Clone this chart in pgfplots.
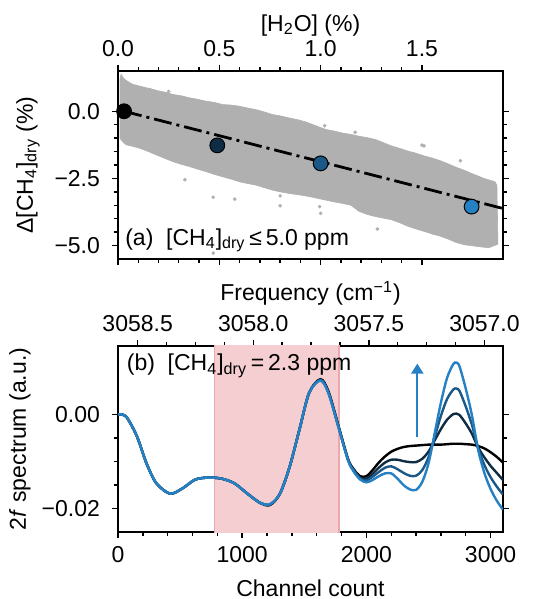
\documentclass[border=0pt]{standalone}
\usepackage{fontspec}
\setmainfont{Liberation Sans}
\usepackage{pgfplots}
\pgfplotsset{compat=1.18}
\usetikzlibrary{arrows.meta}
\definecolor{cA}{RGB}{0,0,0}
\definecolor{cB}{RGB}{14,44,68}
\definecolor{cC}{RGB}{26,88,136}
\definecolor{cD}{RGB}{38,128,196}
\definecolor{band}{RGB}{176,176,176}
\definecolor{spanfill}{RGB}{245,206,209}
\definecolor{spanedge}{RGB}{236,168,174}
\begin{document}
\fontsize{11.5}{14}\selectfont
\begin{tikzpicture}
\path[use as bounding box] (0,0) rectangle (267pt,299.5pt);
\pgfplotsset{
  every axis/.append style={
    scale only axis, width=192.5pt, anchor=south west,
    font=\fontsize{11.5}{14}\selectfont,
    axis line style={line width=1pt},
    every tick/.style={line width=0.7pt, black},
    major tick length=3pt, minor tick length=1.8pt,
    tick align=outside,
    yticklabel style={xshift=-2pt},
  },
}
% ---------------- panel (a) ----------------
\begin{axis}[
  at={(59pt,170pt)}, height=94pt,
  xmin=0, xmax=1.9, ymin=-5.5, ymax=1.5,
  xtick={0,0.5,1,1.5}, xticklabels={0.0,0.5,1.0,1.5},
  xticklabel pos=upper,
  ytick={-5,-2.5,0}, yticklabels={−5.0,−2.5,0.0},
  minor x tick num=4, minor y tick num=4,
  xlabel={[H\textsubscript{2}O] (\%)},
  xlabel style={yshift=-5.5pt},
  ylabel={Δ[CH\textsubscript{4}]\textsubscript{dry} (\%)},
  ylabel style={at={(axis description cs:-0.234,0.5)}, anchor=center},
]
\addplot[fill=band, draw=band, line width=0.3pt] coordinates {
(0.010,1.20) (0.015,1.38) (0.025,1.25) (0.033,1.19) (0.050,1.10) (0.074,1.00) (0.100,0.95)
(0.140,0.875) (0.170,0.82) (0.205,0.75) (0.240,0.70)
(0.271,0.625) (0.310,0.58) (0.353,0.50) (0.390,0.45) (0.435,0.375) (0.475,0.33) (0.517,0.25)
(0.560,0.23) (0.599,0.19) (0.640,0.12) (0.681,0.06) (0.720,-0.02)
(0.764,-0.125) (0.800,-0.17) (0.846,-0.25) (0.890,-0.32) (0.928,-0.40) (0.980,-0.55) (1.027,-0.68)
(1.070,-0.74) (1.107,-0.81) (1.150,-0.86) (1.190,-0.93) (1.230,-0.98)
(1.270,-1.05) (1.310,-1.17) (1.350,-1.29) (1.390,-1.38) (1.430,-1.48) (1.470,-1.56) (1.510,-1.66)
(1.550,-1.74) (1.590,-1.84) (1.630,-1.96) (1.670,-2.09) (1.710,-2.20)
(1.750,-2.33) (1.810,-2.51) (1.860,-2.62) (1.870,-2.75)
(1.875,-4.95) (1.830,-5.08) (1.790,-5.05) (1.750,-5.01) (1.710,-4.97) (1.670,-4.89) (1.630,-4.76)
(1.590,-4.65) (1.550,-4.57) (1.510,-4.47) (1.470,-4.38)
(1.430,-4.28) (1.390,-4.15) (1.350,-4.04) (1.310,-3.98) (1.270,-3.92) (1.230,-3.84) (1.190,-3.73)
(1.150,-3.50) (1.107,-3.43) (1.070,-3.38)
(1.027,-3.31) (0.947,-3.18) (0.900,-3.12) (0.846,-3.06) (0.800,-3.00) (0.764,-2.94) (0.720,-2.84)
(0.681,-2.75) (0.640,-2.69) (0.599,-2.625) (0.560,-2.53)
(0.517,-2.44) (0.475,-2.35) (0.435,-2.25) (0.395,-2.16) (0.353,-2.06) (0.310,-1.97) (0.271,-1.875)
(0.230,-1.75) (0.189,-1.625) (0.150,-1.50) (0.107,-1.375) (0.070,-1.30)
(0.041,-1.25) (0.025,-1.15) (0.015,-1.06) (0.010,-1.00)
} -- cycle;
\addplot[only marks, mark=*, mark size=0.7pt, color=band] coordinates {
(0.16,0.80) (0.25,0.74) (0.33,-2.55) (0.47,-3.20) (0.47,-5.28) (0.576,-3.27)
(0.80,-3.15) (0.80,-3.52) (1.00,-3.80) (0.995,-3.55) (1.28,-4.38) (1.50,-1.26)
(0.88,-0.38) (1.02,-0.54) (1.17,-0.78) (1.51,-1.29) (1.69,-1.84) (1.68,-4.77)
};
\addplot[black, line width=1.4pt, dash pattern=on 9pt off 2.5pt on 1.5pt off 2.5pt] coordinates {(0.03,0) (1.9,-3.62)};
\addplot[only marks, mark=*, mark size=3.7pt, draw=black, line width=0.5pt, fill=cA] coordinates {(0.03,0)};
\addplot[only marks, mark=*, mark size=3.7pt, draw=black, line width=0.5pt, fill=cB] coordinates {(0.49,-1.27)};
\addplot[only marks, mark=*, mark size=3.7pt, draw=black, line width=0.5pt, fill=cC] coordinates {(1.0,-1.94)};
\addplot[only marks, mark=*, mark size=3.7pt, draw=black, line width=0.5pt, fill=cD] coordinates {(1.745,-3.55)};
\node[anchor=base west, inner sep=0pt] at (axis description cs:0.018,0.074)
  {(a)\ \ [CH\textsubscript{4}]\textsubscript{dry}\,≤\,5.0 ppm};
\end{axis}
% ---------------- panel (b) frequency axis ----------------
\begin{axis}[
  at={(59pt,33.35pt)}, height=93.3pt,
  xmin=3056.92, xmax=3058.585, x dir=reverse,
  ymin=0, ymax=1, hide y axis,
  xtick pos=upper, xticklabel pos=upper,
  xtick={3057,3057.5,3058,3058.5}, xticklabels={3057.0,3057.5,3058.0,3058.5},
  minor x tick num=3,
  xlabel={Frequency (cm\textsuperscript{−1})},
  xlabel style={yshift=-3pt},
]
\addplot[draw=none] coordinates {(3057,0.5)};
\end{axis}
% ---------------- panel (b) ----------------
\begin{axis}[
  at={(59pt,33.35pt)}, height=93.3pt,
  xmin=0, xmax=3100, ymin=-0.025, ymax=0.0146,
  xtick pos=lower,
  xtick={0,1000,2000,3000}, xticklabels={0,1000,2000,3000},
  ytick={-0.02,0}, yticklabels={−0.02,0.00},
  minor x tick num=4, minor y tick num=3,
  scaled y ticks=false,
  xlabel={Channel count},
  xlabel style={yshift=-0.5pt},
  ylabel={2\textit{f} spectrum (a.u.)},
  ylabel style={at={(axis description cs:-0.255,0.5)}, anchor=center},
  every axis plot/.append style={smooth, tension=0.5},
]
\addplot[fill=spanfill, draw=spanedge, line width=0.6pt, sharp plot] coordinates {(775,-0.03) (1780,-0.03) (1780,0.02) (775,0.02)} -- cycle;
\addplot[cA, line width=1.2pt] coordinates {
(0,0) (30,0) (73,-0.0007) (152,-0.0046) (230,-0.0104) (309,-0.0146) (419,-0.0168)
(518,-0.0157) (623,-0.0138) (728,-0.0134) (832,-0.0136) (937,-0.0146) (1042,-0.0168)
(1147,-0.0188) (1225,-0.0192) (1304,-0.0168) (1382,-0.0111) (1461,-0.0032) (1539,0.0046)
(1631,0.0075) (1696,0.0048) (1775,-0.0024) (1853,-0.0095) (1900,-0.0117)
(1950,-0.0131) (2000,-0.0131) (2050,-0.0118) (2100,-0.0102) (2150,-0.0089) (2200,-0.0079)
(2250,-0.0073) (2300,-0.0069) (2350,-0.0067) (2400,-0.0066) (2450,-0.0065) (2500,-0.0064)
(2550,-0.0064) (2600,-0.0064) (2650,-0.0063) (2700,-0.0062) (2725,-0.0062) (2750,-0.0062)
(2800,-0.0063) (2850,-0.0064) (2900,-0.0067) (2950,-0.0072) (3000,-0.0080) (3050,-0.0090)
(3100,-0.0102)};
\addplot[cB, line width=1.2pt] coordinates {
(0,0) (30,0) (73,-0.0007) (152,-0.0046) (230,-0.0104) (309,-0.0146) (419,-0.0168)
(518,-0.0157) (623,-0.0138) (728,-0.0134) (832,-0.0136) (937,-0.0146) (1042,-0.0168)
(1147,-0.0188) (1225,-0.0191) (1304,-0.0168) (1382,-0.0111) (1461,-0.0032) (1539,0.0046)
(1631,0.0074) (1696,0.0046) (1775,-0.0025) (1853,-0.0096) (1900,-0.0118)
(1950,-0.0134) (2000,-0.0136) (2050,-0.0126) (2100,-0.0113) (2150,-0.0102) (2200,-0.0096)
(2250,-0.0096) (2300,-0.0099) (2350,-0.0101) (2400,-0.0101) (2450,-0.0094) (2500,-0.0079)
(2550,-0.0055) (2600,-0.0031) (2650,-0.0011) (2700,0.0001) (2725,0.0002) (2750,-0.0001)
(2800,-0.0019) (2850,-0.0041) (2900,-0.0070) (2950,-0.0091) (3000,-0.0109) (3050,-0.0124)
(3100,-0.0139)};
\addplot[cC, line width=1.2pt] coordinates {
(0,0) (30,0) (73,-0.0007) (152,-0.0046) (230,-0.0104) (309,-0.0146) (419,-0.0168)
(518,-0.0157) (623,-0.0138) (728,-0.0134) (832,-0.0136) (937,-0.0146) (1042,-0.0168)
(1147,-0.0188) (1225,-0.0191) (1304,-0.0168) (1382,-0.0111) (1461,-0.0032) (1539,0.0046)
(1631,0.0073) (1696,0.0045) (1775,-0.0026) (1853,-0.0097) (1900,-0.0120)
(1950,-0.0136) (2000,-0.0140) (2050,-0.0132) (2100,-0.0122) (2150,-0.0113) (2200,-0.0110)
(2250,-0.0116) (2300,-0.0124) (2350,-0.0130) (2400,-0.0130) (2450,-0.0118) (2500,-0.0091)
(2550,-0.0048) (2600,-0.0003) (2650,0.0033) (2700,0.0053) (2725,0.0055) (2750,0.0050)
(2800,0.0017) (2850,-0.0022) (2900,-0.0072) (2950,-0.0107) (3000,-0.0133) (3050,-0.0153)
(3100,-0.0170)};
\addplot[cD, line width=1.2pt] coordinates {
(0,0) (30,0) (73,-0.0007) (152,-0.0046) (230,-0.0104) (309,-0.0146) (419,-0.0168)
(518,-0.0157) (623,-0.0138) (728,-0.0134) (832,-0.0136) (937,-0.0146) (1042,-0.0168)
(1147,-0.0188) (1225,-0.0190) (1304,-0.0168) (1382,-0.0111) (1461,-0.0032) (1539,0.0046)
(1631,0.0072) (1696,0.0044) (1775,-0.0027) (1853,-0.0098) (1900,-0.0122)
(1950,-0.0138) (2000,-0.0144) (2050,-0.0139) (2100,-0.0131) (2150,-0.0125) (2200,-0.0125)
(2250,-0.0136) (2300,-0.0150) (2350,-0.0159) (2400,-0.0160) (2450,-0.0143) (2500,-0.0104)
(2550,-0.0040) (2600,0.0025) (2650,0.0078) (2700,0.0107) (2725,0.0110) (2750,0.0102)
(2800,0.0055) (2850,-0.0002) (2900,-0.0075) (2950,-0.0124) (3000,-0.0158) (3050,-0.0183)
(3100,-0.0202)};
\addplot[cD, line width=1pt, sharp plot, -{Triangle[width=6pt,length=5pt]}] coordinates {(2410,-0.0048) (2410,0.0108)};
\node[anchor=base west, inner sep=0pt] at (axis description cs:0.022,0.866)
  {(b)\ \ [CH\textsubscript{4}]\textsubscript{dry}\,=\,2.3 ppm};
\end{axis}
\end{tikzpicture}
\end{document}
